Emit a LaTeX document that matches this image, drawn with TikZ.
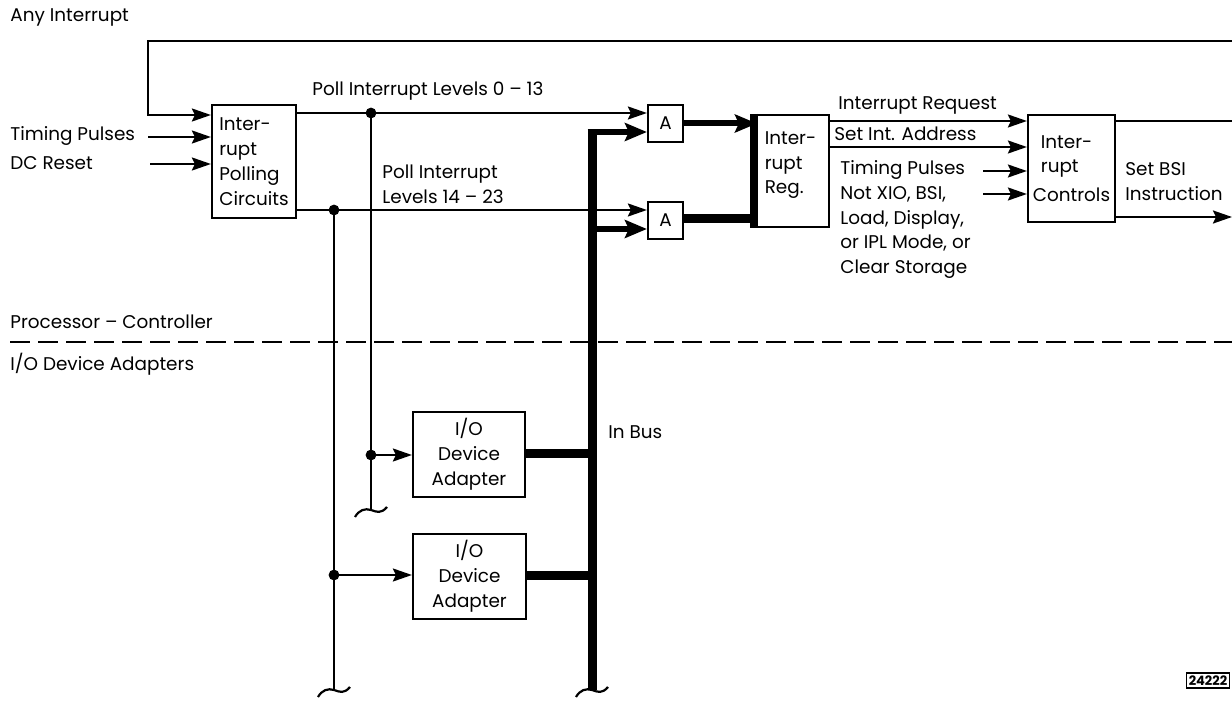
\documentclass[tikz,border=0pt]{standalone}
\usepackage{fontspec}
\setmainfont{Poppins}
\usetikzlibrary{arrows.meta}
\begin{document}
\begin{tikzpicture}[x=0.5pt,y=-0.5pt,
  every node/.style={font=\fontsize{9.2}{12.4}\selectfont},
  lbl/.style={anchor=west,inner sep=0pt,align=left},
  blk/.style={draw,line width=1.1pt,inner sep=0pt,align=left},
  wire/.style={line width=1.1pt},
  arr/.style={line width=1.1pt,-{Stealth[length=9.5pt,width=6.5pt,inset=1.5pt]}},
  bus/.style={line width=4.5pt},
  busarr/.style={line width=3pt,-{Stealth[length=11pt,width=9pt,inset=2pt]}},
  dot/.style={fill},
  tilde/.pic={\draw[line width=1.1pt] (-8pt,-3.5pt) .. controls (-6pt,0pt) and (-3pt,1pt) .. (0,0) .. controls (3pt,-1pt) and (5pt,-2pt) .. (8pt,1.5pt);}
]
\useasboundingbox (0,0) rectangle (1232,717);

% ---------- boxes ----------
\node[blk,minimum width=42pt,minimum height=56.5pt] (poll) at (254,161.5) {Inter-\\rupt\\Polling\\Circuits};
\node[blk,align=center,minimum width=17.5pt,minimum height=18.5pt] (A1) at (665.5,123.5) {A};
\node[blk,align=center,minimum width=17.5pt,minimum height=18.5pt] (A2) at (665.5,220.5) {A};
\node[blk,minimum width=38.5pt,minimum height=56pt] (reg) at (790.5,171) {Inter-\\rupt\\Reg.\\[-4pt]};
\node[blk,minimum width=43.5pt,minimum height=53.5pt] (ctrl) at (1071.5,168.5) {\hspace*{4pt}Inter-\\\hspace*{4pt}rupt\\[2pt]Controls};
\node[blk,align=center,minimum width=56pt,minimum height=42.5pt] (io1) at (469,454.5) {I/O\\Device\\Adapter};
\node[blk,align=center,minimum width=56.5pt,minimum height=42.5pt] (io2) at (469.5,576.5) {I/O\\Device\\Adapter};

% ---------- labels ----------
\node[lbl] (tAny) at (10,17) {Any Interrupt};
\node[lbl] (tTP) at (10,136) {Timing Pulses};
\node[lbl] (tDC) at (10,163) {DC Reset};
\node[lbl] (tP013) at (312,91) {Poll Interrupt Levels 0 -- 13};
\node[lbl] (tP1423) at (382,184.5) {Poll Interrupt\\Levels 14 -- 23};
\node[lbl] (tIR) at (838,105) {Interrupt Request};
\node[lbl] (tSIA) at (834,134) {Set Int. Address};
\node[lbl] (tCond) at (840,219.5) {Timing Pulses\\Not XIO, BSI,\\Load, Display,\\or IPL Mode, or\\Clear Storage};
\node[lbl] (tBSI) at (1125,181.5) {Set BSI\\Instruction};
\node[lbl] (tPC) at (10,322) {Processor -- Controller};
\node[lbl] (tIOA) at (10,364) {I/O Device Adapters};
\node[lbl] (tBus) at (608,432) {In Bus};
\node[draw,line width=0.6pt,inner sep=1.3pt,font=\fontsize{6.5}{7}\selectfont\bfseries] (num) at (1208,680.5) {24222};

% ---------- free ends / junctions ----------
\coordinate (aiR) at (1232,41);
\coordinate (aiC) at (148,41);
\coordinate (tpS) at (148,137);
\coordinate (dcS) at (150,164);
\coordinate (j1) at (371,113);
\coordinate (j1b) at (371,455);
\coordinate (e1) at (371,510);
\coordinate (j2) at (334,210);
\coordinate (j2b) at (334,575);
\coordinate (e2) at (334,690);
\coordinate (busTop) at (592,132);
\coordinate (busA2) at (592,229);
\coordinate (busIO1) at (592,453);
\coordinate (busIO2) at (592,575);
\coordinate (busEnd) at (592,690);
\coordinate (tp2S) at (983,171);
\coordinate (nxS) at (983,194);
\coordinate (ctlR1) at (1232,121);
\coordinate (ctlR2) at (1232,217);
\coordinate (dashL) at (10,342);
\coordinate (dashR) at (1232,342);

% ---------- connectors ----------
\draw[arr] (aiR) -- (aiC) -- (aiC |- 0,115) -- (poll.west |- 0,115);
\draw[arr] (tpS) -- (poll.west |- tpS);
\draw[arr] (dcS) -- (poll.west |- dcS);
\draw[arr] (poll.east |- j1) -- (A1.west |- j1);
\draw[arr] (poll.east |- j2) -- (A2.west |- j2);
\draw[wire] (j1) -- (e1);
\draw[wire] (j2) -- (e2);
\draw[arr] (j1b) -- (io1.west |- j1b);
\draw[arr] (j2b) -- (io2.west |- j2b);
\fill[dot] (j1) circle[radius=2.7pt];
\fill[dot] (j2) circle[radius=2.7pt];
\fill[dot] (j1b) circle[radius=2.7pt];
\fill[dot] (j2b) circle[radius=2.7pt];
\pic at (e1) {tilde};
\pic at (e2) {tilde};

% bus
\draw[bus] (busEnd) -- ([yshift=-0.5pt]busTop);
\draw[busarr] ([xshift=-2.25pt]busTop) -- (A1.west |- busTop);
\draw[busarr] (busA2) -- (A2.west |- busA2);
\draw[bus] (io1.east |- busIO1) -- (busIO1);
\draw[bus] (io2.east |- busIO2) -- (busIO2);
\pic at (busEnd) {tilde};

% gates to register
\draw[line width=4pt] ([xshift=1.5pt]reg.north west) -- ([xshift=1.5pt]reg.south west);
\draw[busarr] (A1.east) -- ([xshift=3pt]reg.west |- A1.east);
\draw[bus] (A2.east |- 0,218) -- (reg.west |- 0,218);

% register to controls
\draw[arr] (reg.east |- 0,121) -- (ctrl.west |- 0,121);
\draw[arr] (reg.east |- 0,147) -- (ctrl.west |- 0,147);
\draw[arr] (tp2S) -- (ctrl.west |- tp2S);
\draw[arr] (nxS) -- (ctrl.west |- nxS);
\draw[wire] (ctrl.east |- ctlR1) -- (ctlR1);
\draw[arr] (ctrl.east |- ctlR2) -- (ctlR2);

% boundary
\draw[wire,dash pattern=on 10pt off 4pt] (dashL) -- (dashR);
\end{tikzpicture}
\end{document}
